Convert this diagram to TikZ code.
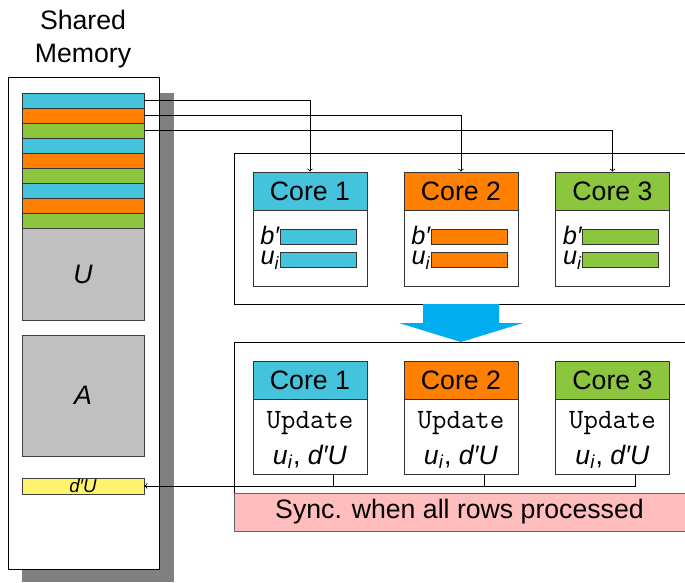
\documentclass[tikz,border=0pt]{standalone}
\usepackage{fontspec}
\setmainfont{Liberation Sans}
\usetikzlibrary{positioning}

\definecolor{corecyan}{HTML}{46C3DC}
\definecolor{coreorange}{HTML}{FF8000}
\definecolor{coregreen}{HTML}{8CC63F}
\definecolor{memgray}{HTML}{C0C0C0}
\definecolor{shadowgray}{HTML}{808080}
\definecolor{dUyellow}{HTML}{FFF36E}
\definecolor{syncpink}{HTML}{FFBDBD}
\definecolor{flowblue}{HTML}{00AEEF}

\newcommand{\ulab}{\textit{u}\textsubscript{\textit{i}}}
\newcommand{\dUlab}{\textit{d′U}}

\tikzset{
  stripe/.style={draw=black!80, minimum width=91.5pt, minimum height=11.25pt, inner sep=0pt},
  block/.style={draw=black!75, fill=memgray, minimum width=91.5pt, inner sep=0pt},
  corehead/.style={draw=black!80, minimum width=85.5pt, minimum height=28.5pt, inner sep=0pt},
  corebody/.style={draw=black!80, fill=white, minimum width=85.5pt, inner sep=0pt},
  regbar/.style={draw=black!80, minimum width=57pt, minimum height=11.25pt, inner sep=0pt},
  reglabel/.style={inner sep=0pt, font=\fontsize{19}{19}\selectfont\itshape},
}

\begin{document}
\begin{tikzpicture}[x=0.75pt, y=-0.75pt, line width=0.6pt,
    font=\fontsize{20}{24}\selectfont]
  \useasboundingbox (0,0) rectangle (685,582);

  % Shared memory
  \node[align=center, font=\fontsize{20}{24.75}\selectfont] (memlabel) at (83,39) {Shared\\Memory};
  \fill[shadowgray] (22,93) rectangle (174,582);
  \node[draw, fill=white, minimum width=113.25pt, minimum height=369pt] (mem) at (83.5,323) {};
  \foreach \c [count=\k from 0] in {corecyan,coreorange,coregreen,corecyan,coreorange,coregreen,corecyan,coreorange,coregreen}
    \node[stripe, fill=\c] (s\k) at (83,{100.5+15*\k}) {};
  \node[block, minimum height=69pt] (U) at (83,274) {\textit{U}};
  \node[block, minimum height=90.75pt] (A) at (83,395.5) {\textit{A}};
  \node[draw=black!75, fill=dUyellow, minimum width=91.5pt, minimum height=12pt, inner sep=0pt,
    font=\fontsize{14}{14}\selectfont] (dU) at (83,486) {\dUlab};

  % Containers
  \draw (685,153) -| (234,304) -- (685,304);
  \draw (685,342) -| (234,493);
  \fill[flowblue] (423,304) -- (499,304) -- (499,323) -- (523,323) -- (461,342)
    -- (399,323) -- (423,323) -- cycle;

  % Cores
  \foreach \i/\x/\c in {1/310/corecyan, 2/461/coreorange, 3/612.5/coregreen} {
    \node[corehead, fill=\c] (uh\i) at (\x,191) {Core \i};
    \node[corebody, minimum height=57pt, below=0pt of uh\i] (ub\i) {};
    \node[regbar, fill=\c] (bb\i) at (\x+8,236.5) {};
    \node[regbar, fill=\c] (bu\i) at (\x+8,259.5) {};
    \node[reglabel, left=0pt of bb\i, yshift=1pt] (lbb\i) {b′};
    \node[reglabel, left=0pt of bu\i, yshift=-0.5pt] (lbu\i) {\ulab};
    \node[corehead, fill=\c] (lh\i) at (\x,380) {Core \i};
    \node[corebody, minimum height=56.25pt, below=0pt of lh\i] (lb\i) {};
    \node[align=center, font=\fontsize{20}{27}\selectfont] (lt\i) at (\x,440)
      {{\fontsize{21}{27}\selectfont\ttfamily Update}\\\ulab, \dUlab};
  }

  \node[draw=black!60, fill=syncpink, minimum width=338.25pt, minimum height=28.5pt, inner sep=0pt] (sync)
    at (459.5,512) {Sync. when all rows processed};

  % Connectors
  \draw[->] (s0.east) -| (uh1.north);
  \draw[->] (s1.east) -| (uh2.north);
  \draw[->] (s2.east) -| (uh3.north);
  \draw ([xshift=17.25pt]lb1.south) |- (dU.east);
  \draw ([xshift=17.25pt]lb2.south) |- (dU.east);
  \draw[->] ([xshift=17.25pt]lb3.south) |- (dU.east);
\end{tikzpicture}
\end{document}
